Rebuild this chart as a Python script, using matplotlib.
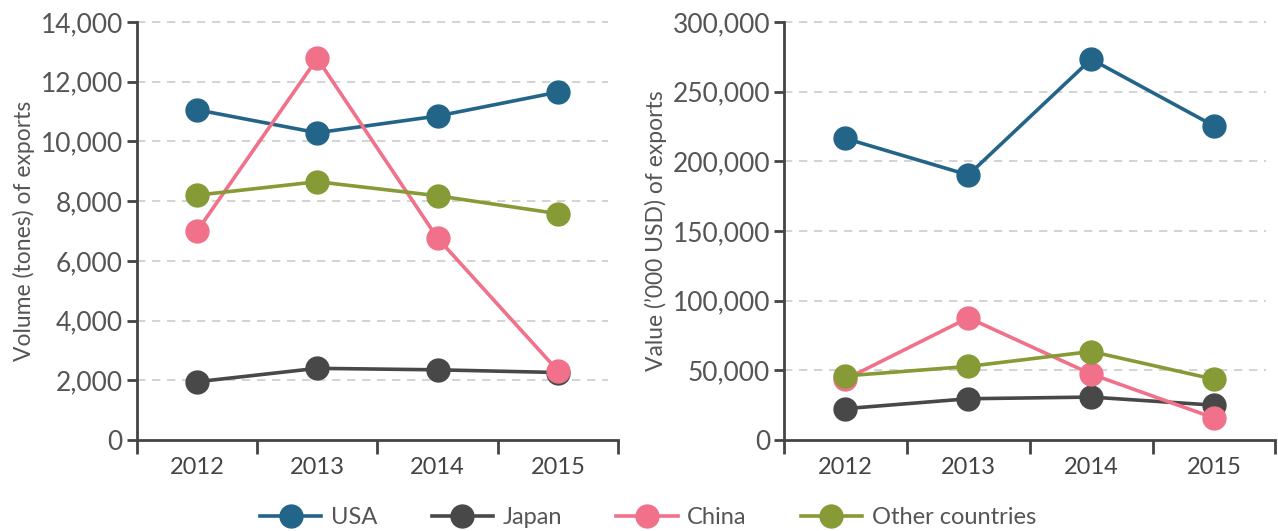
import matplotlib.pyplot as plt
import numpy as np
from matplotlib.ticker import FuncFormatter, FixedLocator

plt.rcParams['font.family'] = ['Lato', 'DejaVu Sans']

years = ['2012', '2013', '2014', '2015']
series = ['USA', 'Japan', 'China', 'Other countries']
colors = ['#236589', '#484848', '#f07189', '#869a36']

volume = {
    'USA': [11060, 10290, 10850, 11650],
    'Japan': [1950, 2400, 2350, 2260],
    'China': [6990, 12780, 6760, 2320],
    'Other countries': [8200, 8650, 8180, 7580],
}
value = {
    'USA': [216400, 190200, 273300, 225400],
    'Japan': [22500, 29600, 30800, 25000],
    'China': [43600, 87700, 47300, 15800],
    'Other countries': [46000, 52800, 63500, 43600],
}

text_color = '#444444'
fig = plt.figure(figsize=(12.78, 5.31), dpi=100)
ax1 = fig.add_axes([0.107, 0.1714, 0.3766, 0.7872])
ax2 = fig.add_axes([0.6135, 0.1714, 0.3845, 0.7872])

x = np.arange(len(years))


def style(ax, ymax, step, ylabel):
    ax.set_xlim(-0.5, 3.5)
    ax.set_ylim(0, ymax)
    ax.set_yticks(np.arange(0, ymax + 1, step))
    ax.yaxis.set_major_formatter(FuncFormatter(lambda v, p: f'{int(v):,}'))
    for s in ['top', 'right']:
        ax.spines[s].set_visible(False)
    for s in ['left', 'bottom']:
        ax.spines[s].set_color(text_color)
        ax.spines[s].set_linewidth(2)
    ax.xaxis.set_major_locator(FixedLocator([-0.5, 0.5, 1.5, 2.5, 3.5]))
    ax.xaxis.set_major_formatter(FuncFormatter(lambda v, p: ''))
    ax.xaxis.set_minor_locator(FixedLocator(x))
    ax.set_xticklabels(years, minor=True)
    ax.tick_params(axis='x', which='major', length=10, width=2, color=text_color)
    ax.tick_params(axis='x', which='minor', length=0, labelsize=17,
                   labelcolor=text_color, pad=12)
    ax.tick_params(axis='y', length=7, width=2, color=text_color,
                   labelsize=19, labelcolor='#555555', pad=3)
    for t in ax.get_yticks()[1:]:
        ax.plot([-0.5, 3.42], [t, t], color='#cccccc', lw=1.2,
                dashes=(5, 4), zorder=0, clip_on=False)
    ax.set_ylabel(ylabel, fontsize=16.5, color='#555555', labelpad=4)


for name, c in zip(series, colors):
    ax1.plot(x, volume[name], color=c, lw=2.6, marker='o', markersize=16.5,
             label=name, zorder=3)
    ax2.plot(x, value[name], color=c, lw=2.6, marker='o', markersize=16.5,
             zorder=3)

style(ax1, 14000, 2000, 'Volume (tones) of exports')
style(ax2, 300000, 50000, 'Value (\u2019000 USD) of exports')

fig.legend(loc='lower center', bbox_to_anchor=(0.507, -0.035), ncol=4,
           frameon=False, fontsize=17, handlelength=2.6, columnspacing=2.3,
           handletextpad=0.4, labelcolor='#555555')

fig.savefig('out.png', dpi=100)
